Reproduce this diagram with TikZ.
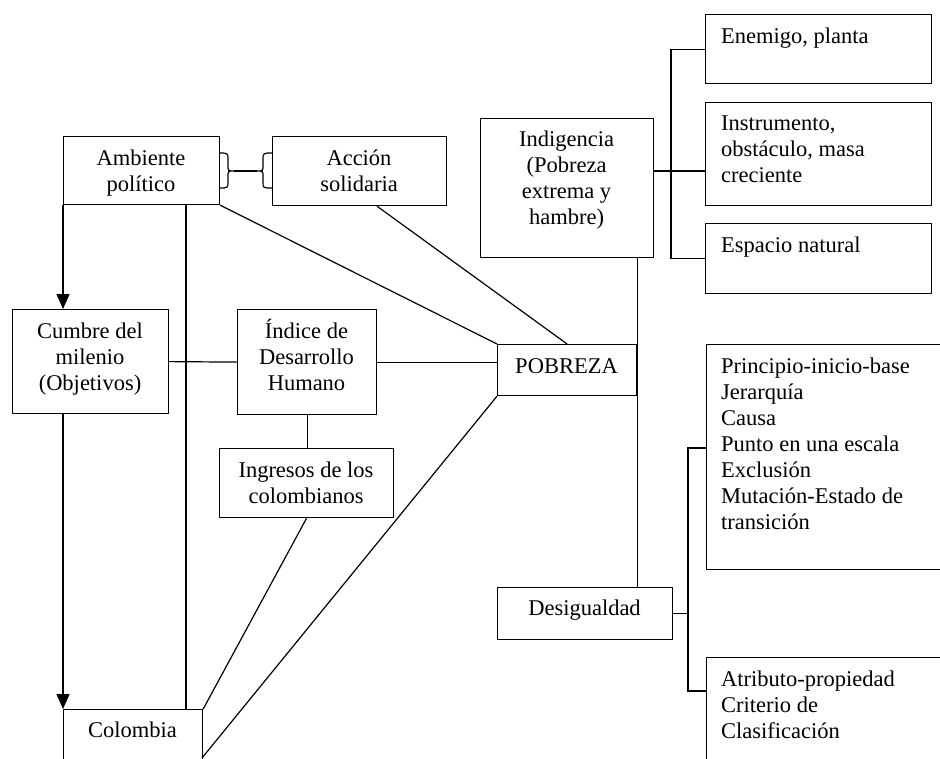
\documentclass[tikz,border=0pt]{standalone}
\usepackage{fontspec}
\setmainfont{Liberation Serif}
\usetikzlibrary{arrows.meta}
\newcommand\fs{\rule{0pt}{22pt}}
\begin{document}
\begin{tikzpicture}[x=1pt,y=-1pt,
  box/.style={draw, line width=1.2pt, inner sep=0pt, anchor=north west},
  txt/.style={inner sep=0pt, font=\fontsize{22.5}{26}\selectfont},
  ctxt/.style={txt, align=center, anchor=north},
  ltxt/.style={txt, align=left, anchor=north west},
  ln/.style={line width=1.2pt},
  arr/.style={ln, -{Triangle[length=15pt,width=13pt]}}]
\useasboundingbox (0,0) rectangle (940,758);
\clip (0,0) rectangle (940,758);
\fill[white] (0,0) rectangle (940,758);

% boxes
\node[box, minimum width=156pt, minimum height=68pt] (amb) at (63,136) {};
\node[box, minimum width=174pt, minimum height=69pt] (acc) at (272,136) {};
\node[box, minimum width=173pt, minimum height=139pt] (indg) at (480,118) {};
\node[box, minimum width=226pt, minimum height=69pt] (ene) at (705,14) {};
\node[box, minimum width=226pt, minimum height=103pt] (ins) at (705,102) {};
\node[box, minimum width=226pt, minimum height=70pt] (esp) at (705,223) {};
\node[box, minimum width=156pt, minimum height=104pt] (cum) at (12,309) {};
\node[box, minimum width=139pt, minimum height=105pt] (idh) at (237,309) {};
\node[box, minimum width=139pt, minimum height=51pt] (pob) at (497,344) {};
\node[box, minimum width=174pt, minimum height=69pt] (ing) at (219,448) {};
\node[box, minimum width=175pt, minimum height=52pt] (des) at (497,587) {};
\node[box, minimum width=260pt, minimum height=225pt] (pri) at (706,344) {};
\node[box, minimum width=260pt, minimum height=130pt] (atr) at (706,657) {};
\node[box, minimum width=139pt, minimum height=80pt] (col) at (63,709) {};

% texts
\node[ctxt] (ambt) at (141,143) {\fs Ambiente\\político};
\node[ctxt] (acct) at (359,143) {\fs Acción\\solidaria};
\node[ctxt] (indgt) at (566.5,124) {\fs Indigencia\\(Pobreza\\extrema y\\hambre)};
\node[ltxt] (enet) at (721,21) {\fs Enemigo, planta};
\node[ltxt] (inst) at (721,108) {\fs Instrumento,\\obstáculo, masa\\creciente};
\node[ltxt] (espt) at (721,230) {\fs Espacio natural};
\node[ctxt] (cumt) at (90,316) {\fs Cumbre del\\milenio\\(Objetivos)};
\node[ctxt] (idht) at (306.5,316) {\fs Índice de\\Desarrollo\\Humano};
\node[ctxt] (pobt) at (566.5,351) {\fs POBREZA};
\node[ctxt] (ingt) at (306,455) {\fs Ingresos de los\\colombianos};
\node[ctxt] (dest) at (584.5,593) {\fs Desigualdad};
\node[ltxt] (prit) at (721,351) {\fs Principio-inicio-base\\Jerarquía\\Causa\\Punto en una escala\\Exclusión\\Mutación-Estado de\\transición};
\node[ltxt] (atrt) at (721,664) {\fs Atributo-propiedad\\Criterio de\\Clasificación};
\node[ctxt] (colt) at (132.5,715) {\fs Colombia};

% helper coordinates
\coordinate (ax) at (186,0);
\coordinate (acx) at (377,0);
\coordinate (iy) at (0,171);
\coordinate (tx) at (671,0);
\coordinate (dx) at (688,0);
\coordinate (py) at (0,448);
\coordinate (ay) at (0,691);
\coordinate (cb) at (202,758);
\coordinate (bl) at (234,171);
\coordinate (br) at (257,171);

% connectors
\draw[arr] (amb.south west) -- (amb.south west |- cum.north);
\draw[arr] (amb.south west |- cum.south) -- (col.north west);
\draw[ln] (amb.south -| ax) -- (col.north -| ax);
\draw[ln] (amb.south east) -- (pob.north west);
\draw[ln] (acc.south -| acx) -- (pob.north);
\draw[ln] (cum.east) -- (idh.west);
\draw[ln] (idh.east) -- (idh.east -| pob.west);
\draw[ln] (idh.south) -- (idh.south |- ing.north);
\draw[ln] (ing.south) -- (col.north east);
\draw[ln] (pob.south west) -- (cb);
\draw[ln] (indg.south -| pob.east) -- (des.north -| pob.east);
\draw[ln] (indg.east |- iy) -- (ins.west |- iy);
\draw[ln] (ene.west) -- (ene.west -| tx) -- (esp.west -| tx) -- (esp.west);
\draw[ln] (des.east) -- (des.east -| dx);
\draw[ln] (pri.west |- py) -- (dx |- py) -- (dx |- ay) -- (atr.west |- ay);

% brace connector between Ambiente and Accion
\draw[ln] (219,153) .. controls (228,153) .. (228,160) -- (228,165)
  .. controls (228,171) .. (bl) .. controls (228,171) .. (228,177) -- (228,182)
  .. controls (228,188) .. (219,188);
\draw[ln] (272,153) .. controls (263,153) .. (263,160) -- (263,165)
  .. controls (263,171) .. (br) .. controls (263,171) .. (263,177) -- (263,182)
  .. controls (263,188) .. (272,188);
\draw[ln] (bl) -- (br);
\end{tikzpicture}
\end{document}
